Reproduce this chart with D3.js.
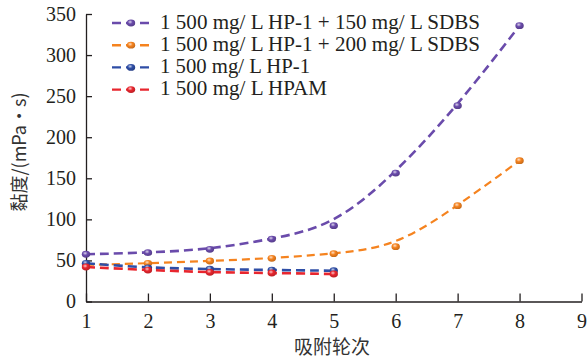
<!DOCTYPE html>
<html>
<head>
<meta charset="utf-8">
<script src="https://cdn.jsdelivr.net/npm/d3@7"></script>
<style>
  html, body { margin: 0; padding: 0; background: #fff; }
  svg { display: block; }
  .serif { font-family: "Liberation Serif", "DejaVu Serif", serif; }
</style>
</head>
<body>
<svg id="chart" width="587" height="358"></svg>
<script>
// Adsorption rounds and viscosity (mPa·s) of each polymer solution
const rounds = [1, 2, 3, 4, 5, 6, 7, 8];
const roundsShort = [1, 2, 3, 4, 5];
const sdbs150 = [57.5, 59.4, 63.5, 76, 92.3, 156.4, 238.4, 335.8];
const sdbs200 = [44.5, 46.5, 49.3, 52.6, 58.2, 66.7, 116.6, 171.4];
const hp1 = [46.5, 41, 39.5, 38.3, 37.5];
const hpam = [42, 38.3, 35.5, 34.7, 33.5];

const seriesNames = [
  "1 500 mg/ L HP-1 + 150 mg/ L SDBS",
  "1 500 mg/ L HP-1 + 200 mg/ L SDBS",
  "1 500 mg/ L HP-1",
  "1 500 mg/ L HPAM"
];
const seriesColors = ["#6a4bab", "#f5831f", "#2f4ea6", "#e8262e"];
const xTicks = [1, 2, 3, 4, 5, 6, 7, 8, 9];
const yTicks = [0, 50, 100, 150, 200, 250, 300, 350];
const xTitle = "吸附轮次";
const yTitle = "黏度/(mPa•s)";

const series = [
  { name: seriesNames[0], color: seriesColors[0], x: rounds, y: sdbs150, w: 2.6, dash: "9,5" },
  { name: seriesNames[1], color: seriesColors[1], x: rounds, y: sdbs200, w: 2.2, dash: "8,5" },
  { name: seriesNames[2], color: seriesColors[2], x: roundsShort, y: hp1, w: 2.6, dash: "9,5" },
  { name: seriesNames[3], color: seriesColors[3], x: roundsShort, y: hpam, w: 2.6, dash: "9,5" }
];

const svg = d3.select("#chart");
const x = d3.scaleLinear().domain([1, 9]).range([86, 581.5]);
const y = d3.scaleLinear().domain([0, 350]).range([301.5, 14]);

// Marker shading gradients
const defs = svg.append("defs");
series.forEach((s, i) => {
  const g = defs.append("radialGradient").attr("id", "mk" + i)
    .attr("cx", "40%").attr("cy", "35%").attr("r", "65%");
  g.append("stop").attr("offset", "0%").attr("stop-color", d3.interpolateRgb(s.color, "#fff")(0.75));
  g.append("stop").attr("offset", "45%").attr("stop-color", s.color);
  g.append("stop").attr("offset", "100%").attr("stop-color", d3.color(s.color).darker(0.6));
});

// Axes
const yAxis = svg.append("g").attr("transform", `translate(${x(1)},0)`)
  .call(d3.axisLeft(y).tickValues(yTicks).tickSizeInner(-6).tickSizeOuter(0).tickPadding(10));
const xAxis = svg.append("g").attr("transform", `translate(0,${y(0)})`)
  .call(d3.axisBottom(x).tickValues(xTicks).tickSizeInner(-8).tickSizeOuter(0).tickPadding(12));
[yAxis, xAxis].forEach(a => {
  a.attr("font-family", null).attr("font-size", null);
  a.selectAll(".tick text").attr("class", "serif")
    .style("font-size", "20px").attr("fill", "#231f20");
  a.selectAll(".domain").attr("stroke", "#231f20").attr("stroke-width", 1.3);
  a.selectAll(".tick line").attr("stroke", "#231f20").attr("stroke-width", 1.3);
});

// Smoothed lines and data markers
const line = d3.line().x(d => x(d[0])).y(d => y(d[1])).curve(d3.curveBasis);
series.forEach(s => {
  svg.append("path").datum(s.x.map((xv, j) => [xv, s.y[j]])).attr("d", line)
    .attr("fill", "none").attr("stroke", s.color)
    .attr("stroke-width", s.w).attr("stroke-dasharray", s.dash);
});
series.forEach((s, i) => {
  svg.append("g").selectAll("ellipse").data(s.x.map((xv, j) => [xv, s.y[j]])).join("ellipse")
    .attr("cx", d => x(d[0])).attr("cy", d => y(d[1]))
    .attr("rx", 4.2).attr("ry", 3.4).attr("fill", `url(#mk${i})`);
});

// Legend
const legendRows = [28.5, 50.7, 72.9, 95.1];
const legendWidths = [320, 320, 150, 167];
series.forEach((s, i) => {
  const g = svg.append("g").attr("transform", `translate(0,${legendRows[i]})`);
  g.append("line").attr("x1", 112).attr("x2", 150).attr("y1", -5.5).attr("y2", -5.5)
    .attr("stroke", s.color).attr("stroke-width", 2.4).attr("stroke-dasharray", "9,5");
  g.append("ellipse").attr("cx", 131).attr("cy", -5.5).attr("rx", 4.2).attr("ry", 3.4)
    .attr("fill", `url(#mk${i})`);
  g.append("text").attr("class", "serif").attr("x", 160).attr("y", 0)
    .attr("textLength", legendWidths[i]).attr("lengthAdjust", "spacingAndGlyphs")
    .style("font-size", "20px").attr("fill", "#231f20").text(s.name);
});

// Axis titles
svg.append("text").attr("x", 332).attr("y", 354).attr("text-anchor", "middle")
  .style("font-family", "'Noto Sans CJK SC', sans-serif").style("font-size", "19px")
  .attr("fill", "#333").text(xTitle);
svg.append("text").attr("transform", "translate(26,152) rotate(-90)").attr("text-anchor", "middle")
  .style("font-family", "'Noto Sans CJK SC', sans-serif").style("font-size", "18px")
  .attr("fill", "#333").text(yTitle);
</script>
</body>
</html>
